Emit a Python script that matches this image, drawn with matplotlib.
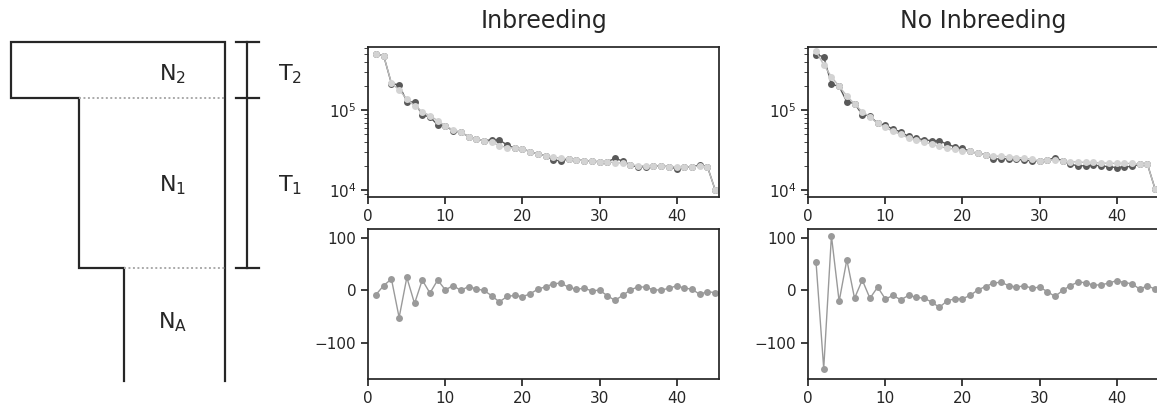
import numpy as np
import matplotlib
matplotlib.use("Agg")
import matplotlib.pyplot as plt

# ---- data ----
generations = list(range(1, 46))

inbr_dark = [5.06e5, 4.77e5, 2.15e5, 2.07e5, 1.28e5, 1.26e5, 8.73e4, 8.2e4, 6.55e4, 6.37e4,
             5.5e4, 5.31e4, 4.68e4, 4.38e4, 4.17e4, 4.25e4, 4.25e4, 3.68e4, 3.35e4, 3.28e4,
             3.04e4, 2.82e4, 2.71e4, 2.39e4, 2.32e4, 2.46e4, 2.39e4, 2.34e4, 2.32e4, 2.26e4,
             2.26e4, 2.51e4, 2.32e4, 2.07e4, 1.94e4, 1.97e4, 2.01e4, 2.0e4, 1.97e4, 1.85e4,
             1.94e4, 1.97e4, 2.07e4, 1.97e4, 1.01e4]
inbr_light = [5.06e5, 4.77e5, 2.18e5, 1.79e5, 1.38e5, 1.13e5, 9.6e4, 8.5e4, 7.4e4, 6.37e4,
              5.67e4, 5.31e4, 4.68e4, 4.38e4, 4.17e4, 3.98e4, 3.61e4, 3.41e4, 3.35e4, 3.28e4,
              3.04e4, 2.82e4, 2.71e4, 2.59e4, 2.51e4, 2.46e4, 2.39e4, 2.34e4, 2.32e4, 2.26e4,
              2.26e4, 2.21e4, 2.18e4, 2.07e4, 2.03e4, 2.01e4, 2.01e4, 2.0e4, 1.97e4, 1.97e4,
              1.94e4, 1.97e4, 2.0e4, 1.97e4, 1.01e4]
inbr_diff = [-8, 9.5, 22, -52, 25, -25, 20, -5, 20, 1,
             9.5, 0, 7.6, 3, 0, -10, -22, -11.5, -9.5, -12,
             -6.4, 2.5, 7, 13, 14, 6, 2.5, 4, -0.6, 0.6,
             -10, -19, -9.5, 1, 7, 6.4, 1, 1, 4, 9,
             4.5, 2.5, -7.6, -2, -4.5]

noinbr_dark = [4.93e5, 4.65e5, 2.11e5, 1.98e5, 1.27e5, 1.21e5, 8.76e4, 8.51e4, 6.82e4, 6.5e4,
               5.79e4, 5.37e4, 4.69e4, 4.47e4, 4.27e4, 4.15e4, 4.15e4, 3.76e4, 3.49e4, 3.35e4,
               3.05e4, 2.88e4, 2.77e4, 2.49e4, 2.44e4, 2.49e4, 2.44e4, 2.37e4, 2.33e4, 2.33e4,
               2.37e4, 2.56e4, 2.33e4, 2.11e4, 2.02e4, 2.02e4, 2.05e4, 2.02e4, 1.96e4, 1.92e4,
               1.96e4, 1.98e4, 2.11e4, 2.11e4, 1.03e4]
noinbr_light = [5.42e5, 3.69e5, 2.62e5, 1.98e5, 1.51e5, 1.19e5, 9.55e4, 8.27e4, 6.82e4, 6.08e4,
                5.42e4, 5.01e4, 4.47e4, 4.27e4, 4.03e4, 3.76e4, 3.52e4, 3.35e4, 3.25e4, 3.11e4,
                3.05e4, 2.88e4, 2.77e4, 2.69e4, 2.64e4, 2.62e4, 2.56e4, 2.51e4, 2.44e4, 2.33e4,
                2.37e4, 2.37e4, 2.33e4, 2.26e4, 2.26e4, 2.22e4, 2.22e4, 2.18e4, 2.18e4, 2.16e4,
                2.16e4, 2.16e4, 2.11e4, 2.11e4, 1.03e4]
noinbr_diff = [55, -150, 105, -21, 59, -15, 20, -15, 6.4, -16.5,
               -9.5, -18, -9.5, -13, -15, -22, -32.5, -20, -16, -16,
               -9.5, 1, 7.6, 14, 16, 9, 6.4, 9, 4.5, 6.4,
               -2, -11.5, 0, 9.5, 16, 15, 10, 11, 14, 19,
               15, 13, 2.5, 9, 2.5]

titles = ["Inbreeding", "No Inbreeding"]

# ---- style ----
ink = "#262626"
plt.rcParams.update({
    "font.family": "DejaVu Sans",
    "axes.edgecolor": ink,
    "axes.linewidth": 1.25,
    "xtick.color": ink,
    "ytick.color": ink,
    "xtick.labelcolor": ink,
    "ytick.labelcolor": ink,
    "xtick.labelsize": 11,
    "ytick.labelsize": 11,
    "xtick.major.size": 5,
    "ytick.major.size": 5,
    "ytick.minor.size": 3,
    "xtick.major.width": 1.25,
    "ytick.major.width": 1.25,
    "text.color": ink,
})

W, H = 1157, 407
fig = plt.figure(figsize=(W / 100, H / 100), dpi=100)


def px_axes(x0, y0, x1, y1):
    # axes from pixel box (top-left origin)
    return fig.add_axes([x0 / W, 1 - y1 / H, (x1 - x0) / W, (y1 - y0) / H])


# ---- schematic on the left ----
sk = fig.add_axes([0, 0, 1, 1])
sk.set_xlim(0, W)
sk.set_ylim(H, 0)
sk.axis("off")

outline_x = [123.7, 123.7, 78.7, 78.7, 10.7, 10.7, 225.3, 225.3]
outline_y = [380.7, 267.7, 267.7, 98.3, 98.3, 42.3, 42.3, 380.7]
sk.plot(outline_x, outline_y, color=ink, lw=1.6, solid_joinstyle="miter")
for yy, x0 in [(98.3, 78.7), (267.7, 123.7)]:
    sk.plot([x0, 225.3], [yy, yy], color="#aaaaaa", lw=1.4, ls=(0, (1, 1.3)))
sk.plot([247.3, 247.3], [42.3, 267.7], color=ink, lw=1.6)
for yy in [42.3, 98.3, 267.7]:
    sk.plot([236, 259], [yy, yy], color=ink, lw=1.6)

lab_kw = dict(ha="center", va="center", fontsize=16)
sk.text(172.7, 74, r"$\mathregular{N_2}$", **lab_kw)
sk.text(172.7, 185, r"$\mathregular{N_1}$", **lab_kw)
sk.text(172.7, 322, r"$\mathregular{N_A}$", **lab_kw)
sk.text(290, 74, r"$\mathregular{T_2}$", **lab_kw)
sk.text(290, 185, r"$\mathregular{T_1}$", **lab_kw)

# ---- data panels ----
dark_c, light_c, diff_c = "#595959", "#d3d3d3", "#9a9a9a"
panels = [(368.3, inbr_dark, inbr_light, inbr_diff),
          (808.3, noinbr_dark, noinbr_light, noinbr_diff)]

for (x0, dk, lt, df), title in zip(panels, titles):
    x1 = x0 + 350.7
    top = px_axes(x0, 47.3, x1, 196.7)
    top.plot(generations, dk, color=dark_c, lw=1, marker="o", ms=5, mec="none")
    top.plot(generations, lt, color="#bdbdbd", lw=1, marker="o", ms=5, mfc=light_c, mec="none")
    top.set_yscale("log")
    top.set_ylim(8.3e3, 6.1e5)
    top.set_xlim(0, 45.5)
    top.set_xticks([0, 10, 20, 30, 40])
    top.set_title(title, fontsize=17, pad=14, color=ink)

    bot = px_axes(x0, 229, x1, 379)
    bot.plot(generations, df, color=diff_c, lw=1, marker="o", ms=5, mec="none")
    bot.set_xlim(0, 45.5)
    bot.set_ylim(-170, 118)
    bot.set_xticks([0, 10, 20, 30, 40])
    bot.set_yticks([-100, 0, 100])

fig.savefig("out.png", dpi=100)
